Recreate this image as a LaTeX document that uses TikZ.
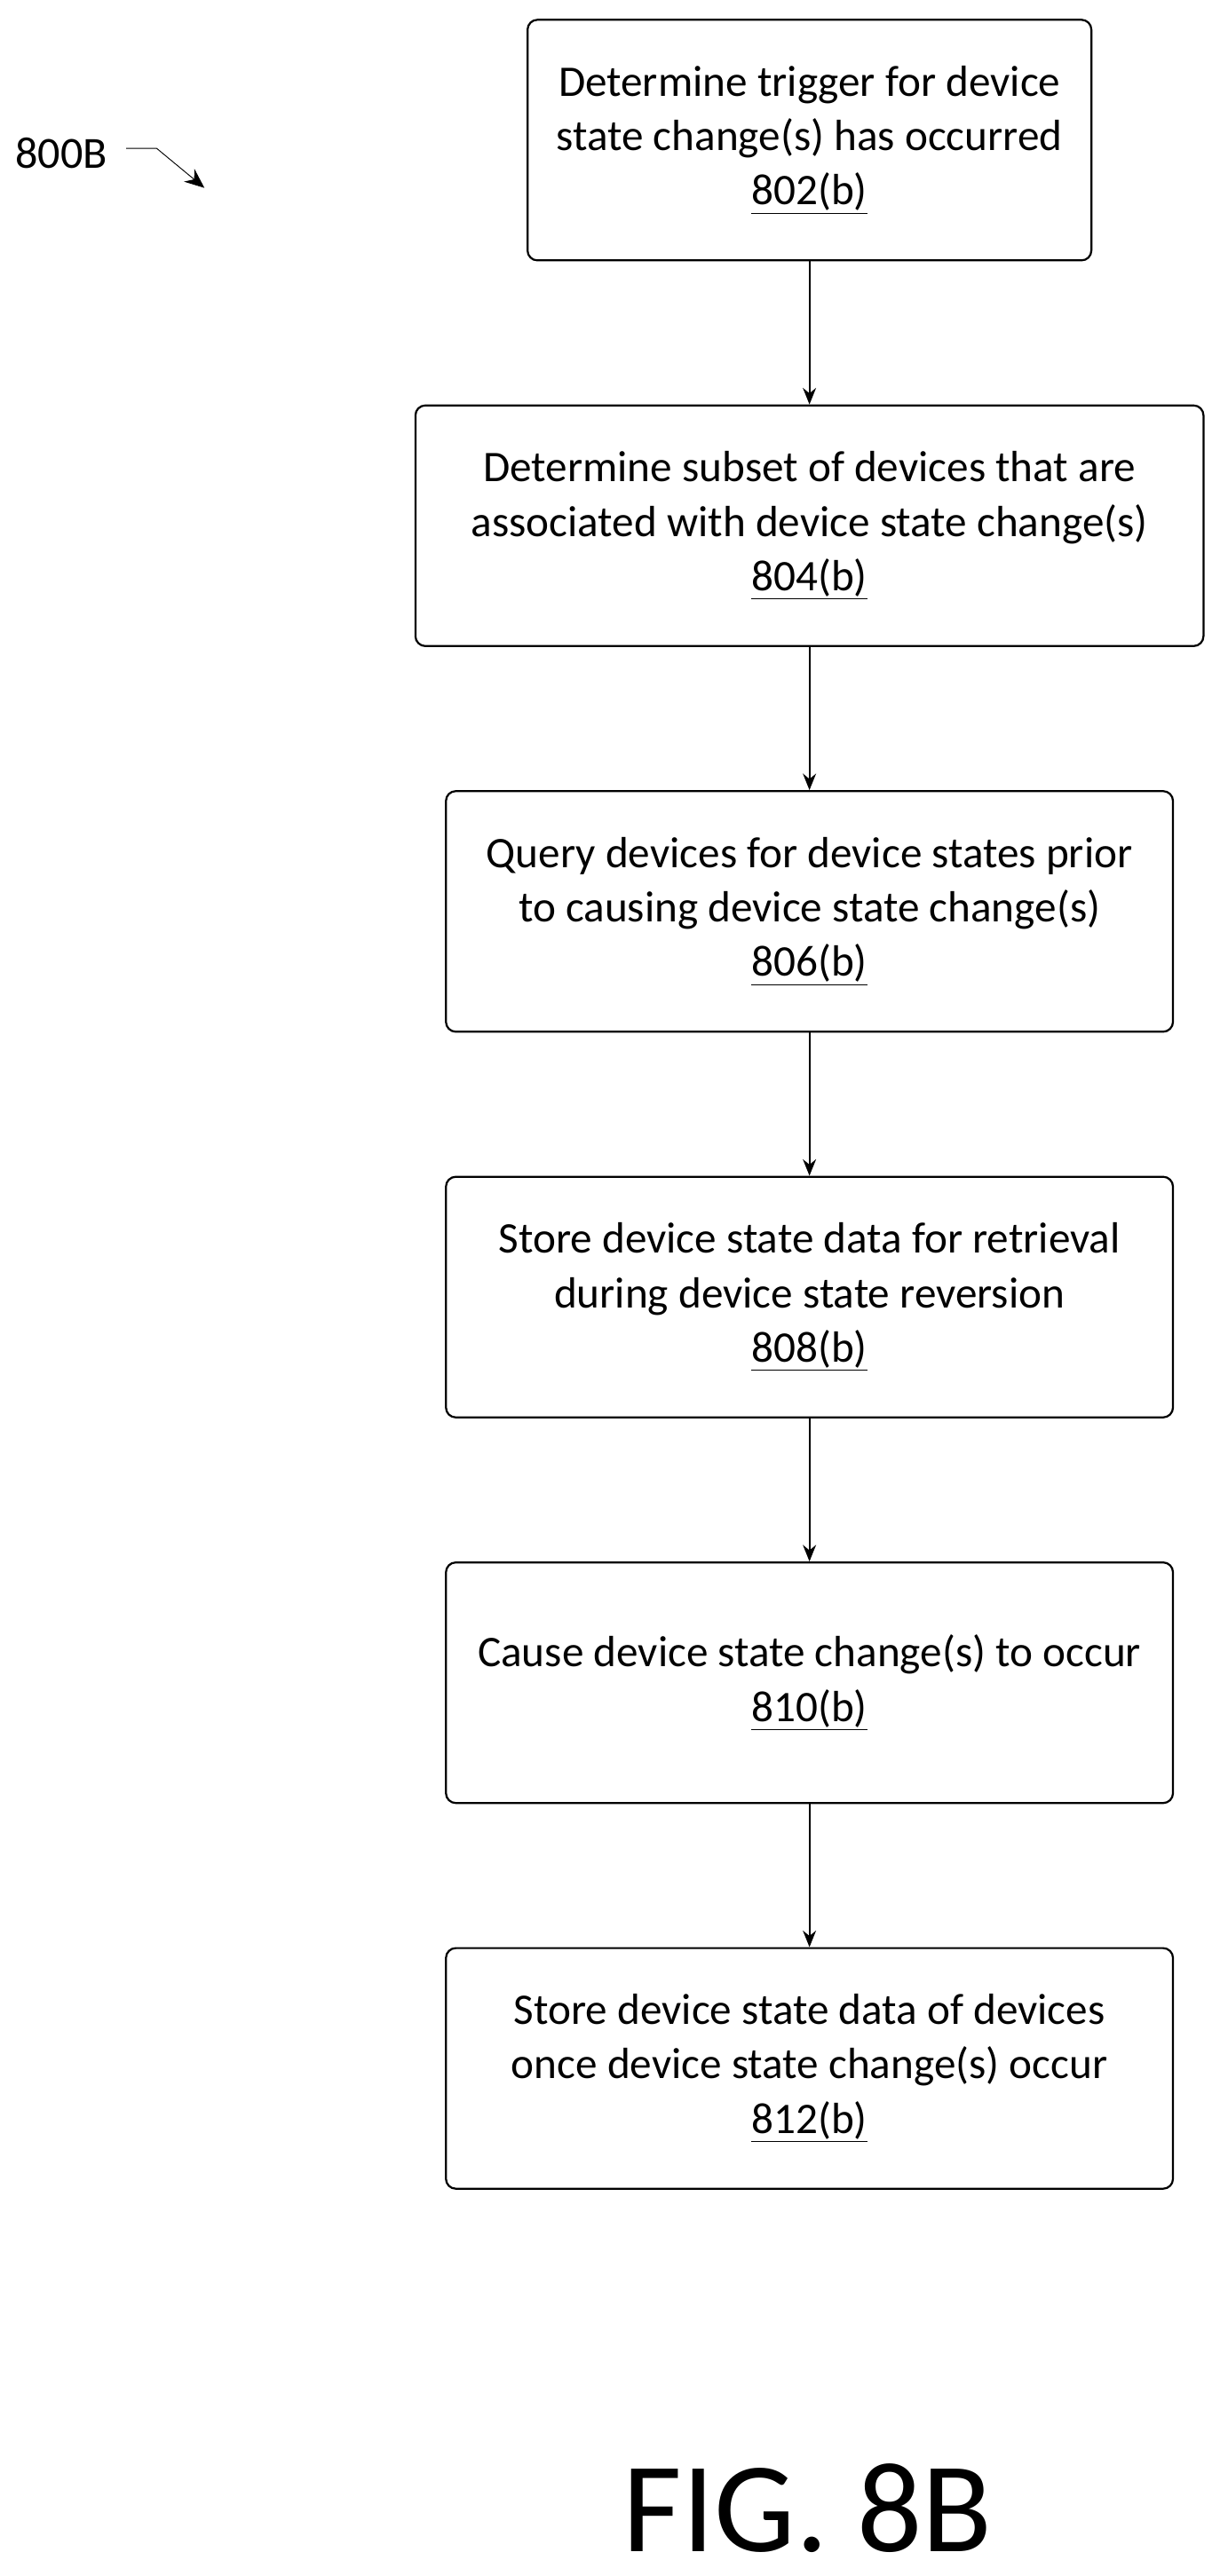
\documentclass[tikz,border=0pt]{standalone}
\usepackage{fontspec}
\setmainfont{Carlito}
\usetikzlibrary{positioning,arrows.meta}
\begin{document}
\begin{tikzpicture}
	[x=1pt,y=1pt,thick,
	  stepbox/.style={shape=rectangle,draw,line width=1.2pt,rounded corners=6pt,
	    minimum height=146pt,align=center,font=\fontsize{26.5}{33}\selectfont},
	  flow/.style={-{Stealth[length=10pt,width=8pt]},line width=1.2pt}]
	\useasboundingbox (0,0) rectangle (740,-1563);
	\node[stepbox,minimum width=342pt] (s802) at (491,-85)
	  {Determine trigger for device\\state change(s) has occurred\\\underline{802(b)}};
	\node[stepbox,minimum width=478pt] (s804) at (491,-319)
	  {Determine subset of devices that are\\associated with device state change(s)\\\underline{804(b)}};
	\node[stepbox,minimum width=441pt] (s806) at (491,-553)
	  {Query devices for device states prior\\to causing device state change(s)\\\underline{806(b)}};
	\node[stepbox,minimum width=441pt] (s808) at (491,-787)
	  {Store device state data for retrieval\\during device state reversion\\\underline{808(b)}};
	\node[stepbox,minimum width=441pt] (s810) at (491,-1021)
	  {Cause device state change(s) to occur\\\underline{810(b)}};
	\node[stepbox,minimum width=441pt] (s812) at (491,-1255)
	  {Store device state data of devices\\once device state change(s) occur\\\underline{812(b)}};
	% connectors
	\foreach \a/\b in {s802/s804,s804/s806,s806/s808,s808/s810,s810/s812}
	  \draw[flow] (\a) -- (\b);
	\node[font=\fontsize{27}{30}\selectfont,anchor=west,inner sep=1pt] (lbl) at (8,-93) {800B};
	\coordinate (bend) at (95,-90);
	\coordinate (tip) at (124,-114);
	\draw[line width=0.5pt,-{Stealth[length=12pt,width=10pt]}] (lbl.east) ++(10,3) -- (bend) -- (tip);
	\node[font=\fontsize{78}{80}\selectfont] (fig) at (490,-1522) {FIG. 8B};
\end{tikzpicture}
\end{document}
